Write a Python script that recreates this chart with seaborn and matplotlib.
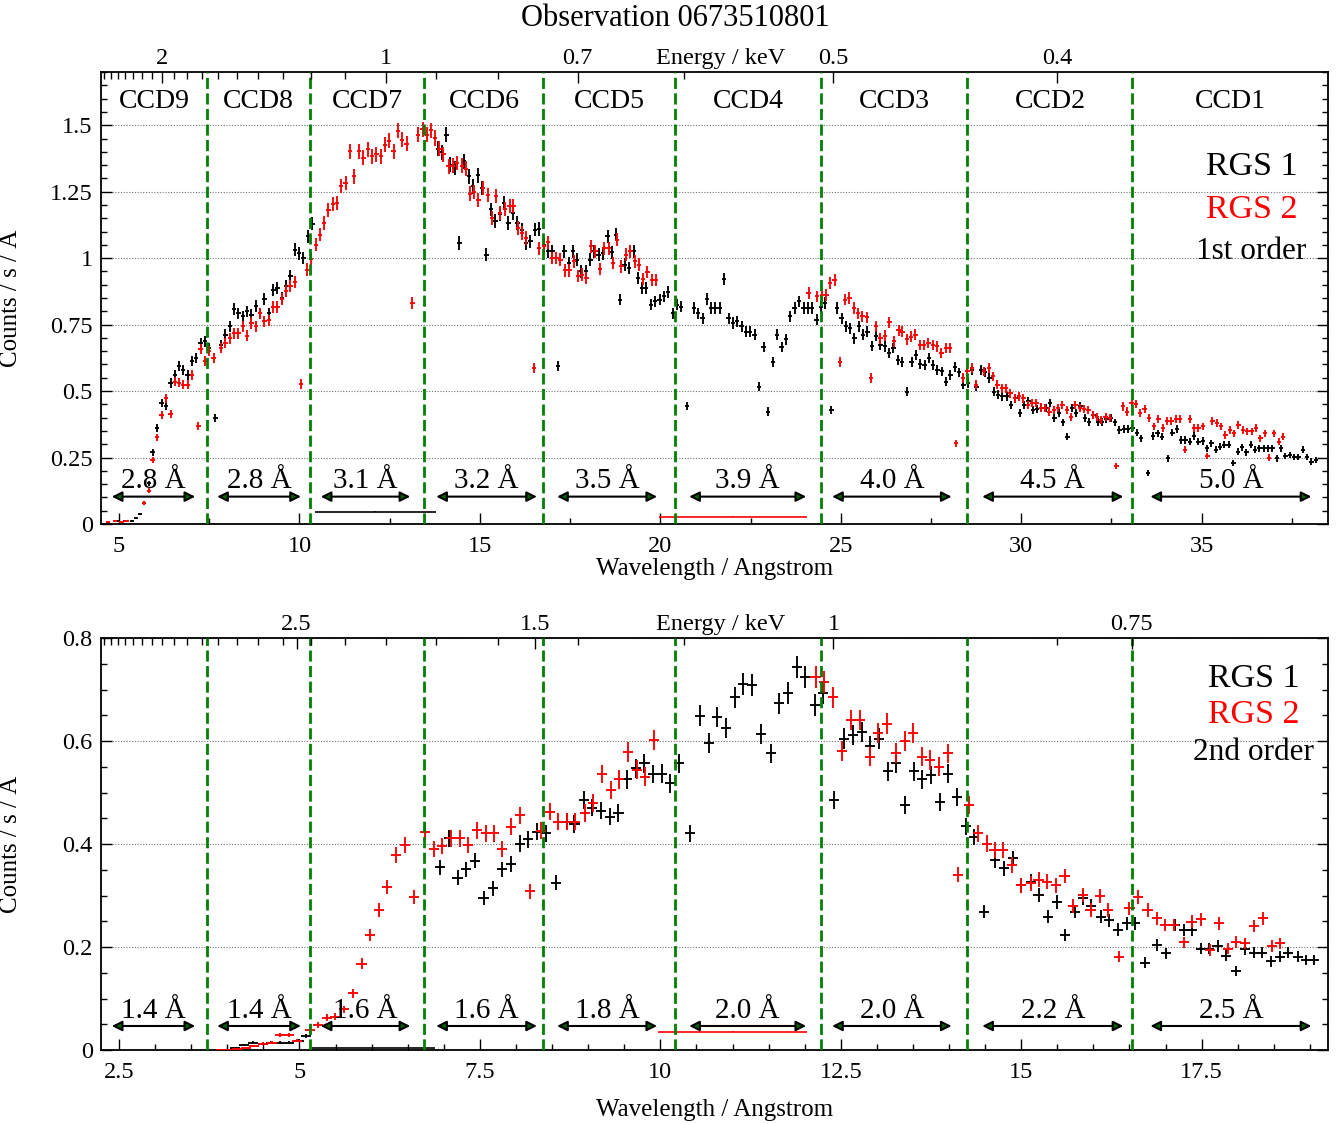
import numpy as np
import matplotlib
matplotlib.use("Agg")
import matplotlib.pyplot as plt
from matplotlib.transforms import offset_copy
from matplotlib.ticker import MultipleLocator, FormatStrFormatter
import seaborn as sns

# ---------------------------------------------------------------- data
# 1st order spectra (wavelength in Angstrom, counts / s / A)
rgs1_o1_wl = [4.98, 5.17, 5.35, 5.47, 5.58, 5.70, 5.83, 5.93, 6.06, 6.18, 6.30, 6.43, 6.55, 6.67, 6.78, 6.90,
              7.02, 7.14, 7.26, 7.38, 7.50, 7.67, 7.83, 7.95, 8.07, 8.19, 8.31, 8.43, 8.55, 8.67, 8.79, 8.91,
              9.03, 9.16, 9.28, 9.39, 9.51, 9.63, 9.75, 9.87, 9.99, 10.11, 10.25, 10.36,
              13.83, 13.95, 14.07, 14.18, 14.30, 14.43, 14.55, 14.69, 14.81, 14.94, 15.06, 15.18, 15.30, 15.43,
              15.55, 15.67, 15.79, 15.91, 16.04, 16.16, 16.28, 16.40, 16.52, 16.64, 16.77, 16.89, 17.01, 17.16,
              17.34, 17.46, 17.58, 17.69, 17.81, 17.94, 18.06, 18.17, 18.29, 18.41, 18.54, 18.66, 18.78, 18.89,
              19.01, 19.13, 19.26, 19.38, 19.49, 19.61, 19.74, 19.86, 19.98, 20.10, 20.22, 20.35, 20.46, 20.58,
              20.74, 20.94, 21.05, 21.17, 21.29, 21.40, 21.52, 21.64, 21.77, 21.89, 22.01, 22.13, 22.25, 22.37,
              22.49, 22.61, 22.74, 22.86, 22.99, 23.12, 23.24, 23.36, 23.48, 23.60, 23.72, 23.85, 23.97, 24.09,
              24.21, 24.33, 24.45, 24.57, 24.74, 24.90, 25.02, 25.14, 25.26, 25.38, 25.50, 25.62, 25.74, 25.86,
              25.98, 26.10, 26.22, 26.34, 26.46, 26.58, 26.70, 26.84, 26.96, 27.08, 27.20, 27.32, 27.44, 27.56,
              27.68, 27.80, 27.92, 28.04, 28.16, 28.28, 28.40, 28.52, 28.64, 28.76, 28.88, 29.00, 29.12, 29.24,
              29.36, 29.48, 29.60, 29.72, 29.84, 29.96, 30.08, 30.20, 30.32, 30.44, 30.56, 30.68, 30.80, 30.92,
              31.04, 31.16, 31.28, 31.40, 31.52, 31.64, 31.76, 31.88, 32.00, 32.12, 32.24, 32.36, 32.48, 32.60,
              32.72, 32.84, 32.96, 33.08, 33.20, 33.32, 33.52, 33.66, 33.78, 33.90, 34.06, 34.19, 34.31, 34.43,
              34.55, 34.67, 34.79, 34.91, 35.03, 35.15, 35.27, 35.39, 35.51, 35.63, 35.75, 35.88, 36.00, 36.12,
              36.24, 36.36, 36.48, 36.60, 36.72, 36.84, 36.96, 37.08, 37.20, 37.32, 37.44, 37.56, 37.68, 37.80,
              37.92, 38.04, 38.16]
rgs1_o1_cts = [0.010, 0.010, 0.012, 0.021, 0.038, 0.078, 0.153, 0.270, 0.360, 0.455, 0.445, 0.530, 0.561, 0.593, 0.580, 0.561,
               0.614, 0.626, 0.680, 0.687, 0.662, 0.400, 0.674, 0.712, 0.743, 0.808, 0.793, 0.781, 0.800, 0.787, 0.821, 0.793,
               0.846, 0.793, 0.881, 0.888, 0.850, 0.894, 0.932, 1.032, 1.019, 1.001, 1.082, 1.130,
               1.411, 1.399, 1.465, 1.352, 1.339, 1.057, 1.365, 1.308, 1.270, 1.311, 1.264, 1.013, 1.183, 1.139,
               1.167, 1.208, 1.132, 1.170, 1.132, 1.107, 1.057, 1.063, 1.107, 1.110, 1.051, 1.026, 1.026, 0.593,
               1.026, 0.982, 1.026, 0.994, 0.950, 0.950, 0.994, 1.026, 1.013, 1.019, 1.082, 1.022, 1.088, 0.844,
               0.975, 0.963, 1.026, 0.925, 0.888, 0.888, 0.825, 0.837, 0.844, 0.856, 0.871, 0.793, 0.825, 0.818,
               0.444, 0.812, 0.793, 0.774, 0.846, 0.812, 0.812, 0.812, 0.921, 0.774, 0.756, 0.762, 0.743, 0.724,
               0.724, 0.712, 0.517, 0.665, 0.423, 0.611, 0.712, 0.665, 0.695, 0.781, 0.812, 0.837, 0.812, 0.812,
               0.812, 0.768, 0.818, 0.831, 0.429, 0.812, 0.774, 0.743, 0.737, 0.699, 0.743, 0.712, 0.724, 0.670,
               0.708, 0.674, 0.668, 0.643, 0.662, 0.618, 0.611, 0.498, 0.611, 0.636, 0.602, 0.599, 0.624, 0.599,
               0.580, 0.574, 0.536, 0.561, 0.590, 0.570, 0.524, 0.530, 0.580, 0.517, 0.580, 0.570, 0.549, 0.498,
               0.486, 0.480, 0.480, 0.448, 0.473, 0.417, 0.448, 0.461, 0.429, 0.432, 0.436, 0.436, 0.455, 0.398,
               0.417, 0.382, 0.329, 0.436, 0.417, 0.442, 0.398, 0.385, 0.410, 0.385, 0.385, 0.394, 0.398, 0.382,
               0.354, 0.357, 0.357, 0.360, 0.344, 0.323, 0.191, 0.331, 0.341, 0.329, 0.247, 0.344, 0.357, 0.316,
               0.316, 0.310, 0.331, 0.310, 0.312, 0.285, 0.304, 0.279, 0.291, 0.298, 0.298, 0.231, 0.272, 0.289,
               0.269, 0.298, 0.279, 0.285, 0.285, 0.285, 0.285, 0.247, 0.285, 0.256, 0.260, 0.253, 0.251, 0.279,
               0.253, 0.235, 0.241]

rgs2_o1_wl = [4.70, 4.89, 5.07, 5.21, 5.70, 5.83, 5.93, 6.06, 6.18, 6.30, 6.43, 6.55, 6.67, 6.78, 6.90, 7.02,
              7.20, 7.26, 7.38, 7.50, 7.62, 7.83, 7.95, 8.07, 8.19, 8.31, 8.43, 8.55, 8.67, 8.79, 8.91, 9.03,
              9.16, 9.28, 9.39, 9.51, 9.63, 9.75, 9.87, 10.04, 10.20, 10.32, 10.46, 10.57, 10.68, 10.80, 10.92,
              11.04, 11.16, 11.28, 11.40, 11.52, 11.65, 11.77, 11.89, 12.01, 12.13, 12.25, 12.37, 12.49, 12.61,
              12.73, 12.85, 12.97, 13.13, 13.28, 13.41, 13.53, 13.65, 13.76, 13.88, 13.99, 14.13, 14.25, 14.36,
              14.50, 14.61, 14.73, 14.84, 14.96, 15.08, 15.22, 15.33, 15.45, 15.56, 15.70, 15.82, 15.93, 16.05,
              16.16, 16.28, 16.49, 16.63, 16.77, 16.89, 17.00, 17.12, 17.23, 17.37, 17.48, 17.60, 17.72, 17.83,
              17.95, 18.08, 18.20, 18.32, 18.45, 18.57, 18.69, 18.80, 18.92, 19.05, 19.17, 19.29, 19.40, 19.52,
              19.64, 19.76, 19.88,
              24.11, 24.34, 24.48, 24.60, 24.71, 24.83, 24.97, 25.11, 25.24, 25.36, 25.48, 25.60, 25.72, 25.84,
              25.98, 26.10, 26.22, 26.35, 26.47, 26.60, 26.71, 26.83, 26.95, 27.07, 27.19, 27.31, 27.43, 27.55,
              27.67, 27.79, 27.91, 28.03, 28.20, 28.39, 28.51, 28.63, 28.75, 28.96, 29.10, 29.22, 29.34, 29.46,
              29.58, 29.70, 29.82, 29.94, 30.06, 30.18, 30.30, 30.42, 30.54, 30.66, 30.78, 30.90, 31.02, 31.14,
              31.26, 31.38, 31.50, 31.62, 31.74, 31.86, 31.98, 32.10, 32.22, 32.34, 32.46, 32.64, 32.82, 32.94,
              33.06, 33.18, 33.30, 33.42, 33.55, 33.68, 33.80, 33.92, 34.04, 34.16, 34.28, 34.40, 34.54, 34.67,
              34.79, 34.91, 35.03, 35.16, 35.30, 35.42, 35.54, 35.66, 35.78, 35.90, 36.02, 36.15, 36.27, 36.39,
              36.51, 36.63, 36.75, 36.87, 37.00, 37.14, 37.26]
rgs2_o1_cts = [0.006, 0.010, 0.007, 0.010, 0.078, 0.126, 0.241, 0.326, 0.411, 0.473, 0.414, 0.536, 0.532, 0.524, 0.524, 0.561,
               0.370, 0.658, 0.612, 0.650, 0.625, 0.662, 0.680, 0.699, 0.718, 0.718, 0.743, 0.708, 0.756, 0.743, 0.793, 0.762,
               0.766, 0.816, 0.816, 0.846, 0.875, 0.894, 0.909, 0.527, 0.957, 0.997, 1.051, 1.088, 1.132, 1.180, 1.205,
               1.208, 1.271, 1.283, 1.402, 1.308, 1.402, 1.377, 1.409, 1.383, 1.390, 1.383, 1.427, 1.442, 1.402,
               1.480, 1.446, 1.431, 0.831, 1.465, 1.484, 1.465, 1.481, 1.452, 1.411, 1.390, 1.346, 1.348, 1.358,
               1.348, 1.336, 1.243, 1.248, 1.220, 1.264, 1.239, 1.151, 1.235, 1.170, 1.185, 1.195, 1.195, 1.114,
               1.095, 1.076, 0.586, 1.038, 1.045, 1.060, 1.001, 1.001, 0.994, 0.954, 0.954, 0.988, 0.932, 0.938,
               0.925, 1.045, 1.026, 0.959, 1.038, 1.038, 0.982, 1.070, 0.969, 1.013, 1.026, 0.988, 0.975, 0.921,
               0.947, 0.919, 0.919,
               0.868, 0.856, 0.862, 0.862, 0.906, 0.919, 0.608, 0.844, 0.850, 0.812, 0.793, 0.781, 0.778, 0.549,
               0.743, 0.699, 0.708, 0.758, 0.687, 0.728, 0.724, 0.695, 0.705, 0.712, 0.674, 0.674, 0.680, 0.674,
               0.668, 0.643, 0.662, 0.662, 0.304, 0.549, 0.574, 0.586, 0.524, 0.574, 0.586, 0.555, 0.524, 0.511,
               0.511, 0.492, 0.473, 0.480, 0.473, 0.448, 0.455, 0.455, 0.438, 0.436, 0.423, 0.429, 0.436, 0.448,
               0.429, 0.404, 0.448, 0.436, 0.432, 0.429, 0.410, 0.404, 0.391, 0.404, 0.398, 0.218, 0.442, 0.423,
               0.455, 0.452, 0.417, 0.432, 0.398, 0.367, 0.394, 0.360, 0.388, 0.388, 0.394, 0.394, 0.279, 0.394,
               0.360, 0.360, 0.367, 0.256, 0.388, 0.379, 0.367, 0.335, 0.354, 0.341, 0.373, 0.354, 0.348, 0.348,
               0.360, 0.323, 0.341, 0.250, 0.341, 0.310, 0.329]

# 2nd order spectra
rgs1_o2_wl = [4.11, 4.23, 4.36, 4.49, 4.61, 4.73, 4.85, 4.99, 5.09,
              6.95, 7.07, 7.19, 7.31, 7.43, 7.55, 7.68, 7.81, 7.93, 8.05, 8.17, 8.29, 8.41, 8.55, 8.71, 8.81,
              8.94, 9.05, 9.18, 9.30, 9.42, 9.54, 9.66, 9.78, 9.90, 10.02, 10.14, 10.26, 10.41, 10.55, 10.67,
              10.79, 10.91, 11.03, 11.15, 11.27, 11.40, 11.53, 11.65, 11.77, 11.89, 12.01, 12.14, 12.25, 12.40,
              12.54, 12.67, 12.79, 12.91, 13.03, 13.15, 13.27, 13.39, 13.51, 13.63, 13.75, 13.87, 13.99, 14.11,
              14.24, 14.35, 14.49, 14.64, 14.76, 14.88, 15.00, 15.13, 15.24, 15.37, 15.49, 15.61, 15.74, 15.86,
              15.97, 16.10, 16.22, 16.34, 16.46, 16.58, 16.72, 16.88, 17.00, 17.13, 17.25, 17.36, 17.49, 17.60,
              17.72, 17.84, 17.97, 18.10, 18.22, 18.33, 18.46, 18.58, 18.70, 18.83, 18.94, 19.06]
rgs1_o2_cts = [0.003, 0.010, 0.014, 0.012, 0.014, 0.014, 0.014, 0.018, 0.027,
               0.355, 0.411, 0.335, 0.351, 0.368, 0.295, 0.314, 0.351, 0.361, 0.401, 0.409, 0.424, 0.421, 0.325, 0.443, 0.439,
               0.485, 0.471, 0.465, 0.453, 0.460, 0.526, 0.547, 0.557, 0.536, 0.537, 0.518, 0.557, 0.421, 0.649, 0.596,
               0.647, 0.625, 0.685, 0.711, 0.709, 0.614, 0.576, 0.673, 0.693, 0.744, 0.725, 0.670, 0.693, 0.485,
               0.605, 0.612, 0.618, 0.590, 0.605, 0.541, 0.557, 0.476, 0.541, 0.526, 0.534, 0.482, 0.537, 0.492,
               0.435, 0.414, 0.269, 0.369, 0.353, 0.372, 0.320, 0.327, 0.301, 0.259, 0.288, 0.223, 0.269, 0.295,
               0.280, 0.259, 0.252, 0.234, 0.246, 0.246, 0.170, 0.204, 0.188, 0.243, 0.233, 0.233, 0.197, 0.197,
               0.202, 0.183, 0.154, 0.196, 0.189, 0.189, 0.172, 0.181, 0.189, 0.181, 0.175, 0.175]

rgs2_o2_wl = [3.92, 4.02, 4.13, 4.26, 4.37, 4.50, 4.62, 4.73, 4.85, 4.97, 5.14, 5.26, 5.38, 5.49, 5.62, 5.74,
              5.86, 5.98, 6.10, 6.21, 6.34, 6.46, 6.59, 6.74, 6.86, 6.98, 7.10, 7.22, 7.34, 7.46, 7.58, 7.70,
              7.81, 7.93, 8.06, 8.20, 8.35, 8.47, 8.58, 8.71, 8.82, 8.95, 9.07, 9.19, 9.32, 9.43, 9.55, 9.68,
              9.79, 9.91,
              12.15, 12.27, 12.39, 12.52, 12.64, 12.76, 12.90, 13.01, 13.14, 13.27, 13.39, 13.50, 13.63, 13.74,
              13.86, 13.98, 14.13, 14.28, 14.40, 14.52, 14.63, 14.75, 14.87, 15.00, 15.13, 15.24, 15.36, 15.48,
              15.60, 15.72, 15.85, 15.96, 16.09, 16.20, 16.35, 16.50, 16.62, 16.75, 16.88, 16.99, 17.12, 17.25,
              17.36, 17.49, 17.61, 17.74, 17.86, 17.98, 18.10, 18.23, 18.35, 18.47, 18.59]
rgs2_o2_cts = [0.001, 0.001, 0.002, 0.003, 0.008, 0.012, 0.014, 0.029, 0.029, 0.018, 0.038, 0.049, 0.063, 0.065, 0.079, 0.110,
               0.168, 0.223, 0.272, 0.317, 0.379, 0.398, 0.298, 0.424, 0.390, 0.396, 0.411, 0.411, 0.398, 0.427, 0.421, 0.421,
               0.390, 0.434, 0.456, 0.308, 0.426, 0.463, 0.443, 0.443, 0.443, 0.460, 0.480, 0.536, 0.505, 0.526, 0.579, 0.544,
               0.531, 0.602,
               0.724, 0.715, 0.685, 0.581, 0.641, 0.641, 0.570, 0.615, 0.634, 0.577, 0.601, 0.615, 0.570, 0.563,
               0.550, 0.576, 0.340, 0.476, 0.421, 0.401, 0.388, 0.388, 0.359, 0.320, 0.324, 0.331, 0.327, 0.320,
               0.338, 0.280, 0.301, 0.272, 0.299, 0.272, 0.181, 0.275, 0.298, 0.272, 0.256, 0.243, 0.243, 0.209,
               0.249, 0.254, 0.194, 0.246, 0.197, 0.210, 0.207, 0.241, 0.256, 0.202, 0.207]

# single wide bins spanning a whole (failed) CCD: [RGS1, RGS2]
wide_o1_wl = [12.10, 22.02]
wide_o1_cts = [0.046, 0.028]
wide_o1_half = [1.67, 2.05]
wide_o2_wl = [6.03, 11.00]
wide_o2_cts = [0.004, 0.036]
wide_o2_half = [0.85, 1.03]

bin_half_o1 = 0.06   # half bin width in Angstrom
bin_half_o2 = 0.07

# CCD layout
ccd_names = ["CCD9", "CCD8", "CCD7", "CCD6", "CCD5", "CCD4", "CCD3", "CCD2", "CCD1"]
ccd_edges_o1 = [7.44, 10.30, 13.46, 16.76, 20.41, 24.46, 28.51, 33.08]
ccd_width_o1 = ["2.8", "2.8", "3.1", "3.2", "3.5", "3.9", "4.0", "4.5", "5.0"]
ccd_width_o2 = ["1.4", "1.4", "1.6", "1.6", "1.8", "2.0", "2.0", "2.2", "2.5"]
arrow_start_o1 = [4.80, 7.72, 10.59, 13.79, 17.14, 20.80, 24.76, 28.92, 33.58]
arrow_end_o1 = [7.11, 10.04, 13.07, 16.58, 19.91, 24.04, 28.07, 32.83, 38.04]

# energy axis ticks (keV)
energy_major_o1 = [2, 1, 0.7, 0.5, 0.4]
energy_major_o1_lbl = ["2", "1", "0.7", "0.5", "0.4"]
energy_major_o2 = [2.5, 1.5, 1, 0.75]
energy_major_o2_lbl = ["2.5", "1.5", "1", "0.75"]
HC = 12.3984

# ---------------------------------------------------------------- style
sns.set_style("ticks", rc={"axes.edgecolor": "black", "text.color": "black",
                           "xtick.color": "black", "ytick.color": "black",
                           "axes.labelcolor": "black"})
plt.rcParams["font.family"] = ["Liberation Serif", "DejaVu Serif"]
plt.rcParams["xtick.labelsize"] = 17.5
plt.rcParams["ytick.labelsize"] = 17.5

GREEN = "#008000"
RED = "#ff0000"

fig = plt.figure(figsize=(13.43, 11.24), dpi=100)
ax1 = fig.add_axes([0.0752, 0.5338, 0.9136, 0.4021])
ax2 = fig.add_axes([0.0752, 0.0658, 0.9136, 0.3665])


def draw_panel(ax, s1wl, s1c, s2wl, s2c, wwl, wc, wh, bin_half, edges, widths, astart, aend,
               xlim, ylim, xmaj, xmin, ymaj, ymin, err_scale, arrow_y, width_y,
               emaj, emaj_lbl, estep, order_txt, txt_x, txt_y, ccd_labels):
    ax.set_xlim(*xlim)
    ax.set_ylim(*ylim)
    # top energy axis
    axt = ax.twiny()
    axt.set_xlim(*xlim)
    axt.set_xticks([HC / e for e in emaj], labels=emaj_lbl)
    emin_e = HC / xlim[1]
    emax_e = HC / xlim[0]
    minor_e = np.arange(np.ceil(emin_e / estep) * estep, emax_e, estep)
    axt.set_xticks([HC / e for e in minor_e], minor=True)
    axt.tick_params(axis="x", which="both", direction="in", top=True, bottom=False, pad=2)
    axt.tick_params(axis="x", which="major", length=8, width=1)
    axt.tick_params(axis="x", which="minor", length=5, width=1)
    for sp in axt.spines.values():
        sp.set_visible(False)
    ax.text(0.505, 1.0, "Energy / keV", fontsize=17.5, ha="center", va="bottom",
            transform=offset_copy(ax.transAxes, fig=fig, y=2, units="points"))

    # grid
    ax.yaxis.grid(True, which="major", ls=(0, (1, 1.5)), color="0.45", lw=0.8)
    ax.set_axisbelow(True)

    # CCD boundaries
    for b in edges:
        ax.axvline(b, color=GREEN, lw=2.0, ls=(0, (4, 1.6)), zorder=4)

    # spectra (error bar size ~ Poisson-like scaling of rate)
    for wl, c, col in ((s1wl, s1c, "black"), (s2wl, s2c, RED)):
        wl = np.asarray(wl)
        c = np.asarray(c)
        ax.errorbar(wl, c, xerr=bin_half, yerr=err_scale * np.sqrt(c), fmt="none",
                    ecolor=col, elinewidth=1.35, capsize=0, zorder=3)
    for x, y, h, col in zip(wwl, wc, wh, ("black", RED)):
        ax.errorbar([x], [y], xerr=[h], yerr=[err_scale * np.sqrt(y) * 0.3], fmt="none",
                    ecolor=col, elinewidth=1.2, capsize=0, zorder=3)

    # width arrows and labels
    for a0, a1, w in zip(astart, aend, widths):
        ax.annotate("", xy=(a1, arrow_y), xytext=(a0, arrow_y),
                    arrowprops=dict(arrowstyle="<|-|>,head_length=0.6,head_width=0.3",
                                    fc="#006400", ec="black", lw=1.5,
                                    shrinkA=0, shrinkB=0), zorder=5)
        ax.text((a0 + a1) / 2, width_y, f"{w} \u00c5", fontsize=21,
                ha="center", va="baseline", zorder=5)

    # CCD names
    if ccd_labels:
        bounds = [xlim[0]] + list(edges) + [xlim[1]]
        for i, n in enumerate(ccd_names):
            ax.text((bounds[i] + bounds[i + 1]) / 2, 1.565, n, fontsize=20,
                    ha="center", va="baseline")

    # legend-like text
    ax.text(txt_x, txt_y[0], "RGS 1", fontsize=24.5, ha="center", va="baseline", color="black")
    ax.text(txt_x, txt_y[1], "RGS 2", fontsize=24.5, ha="center", va="baseline", color=RED)
    ax.text(txt_x, txt_y[2], order_txt, fontsize=22.5, ha="center", va="baseline", color="black")

    # ticks
    ax.xaxis.set_major_locator(MultipleLocator(xmaj))
    ax.xaxis.set_minor_locator(MultipleLocator(xmin))
    ax.yaxis.set_major_locator(MultipleLocator(ymaj))
    ax.yaxis.set_minor_locator(MultipleLocator(ymin))
    ax.xaxis.set_major_formatter(FormatStrFormatter("%g"))
    ax.yaxis.set_major_formatter(FormatStrFormatter("%g"))
    ax.tick_params(which="both", direction="in", top=False, right=True, left=True, bottom=True)
    ax.tick_params(axis="x", which="major", length=8, width=1, pad=8.5)
    ax.tick_params(axis="y", which="major", length=8, width=1, pad=6)
    ax.tick_params(which="minor", length=4, width=1)
    for sp in ax.spines.values():
        sp.set_linewidth(1.3)
        sp.set_color("black")
    ax.set_xlabel("Wavelength / Angstrom", fontsize=18)
    ax.set_ylabel("Counts / s / \u00c5", fontsize=18)


draw_panel(ax1, rgs1_o1_wl, rgs1_o1_cts, rgs2_o1_wl, rgs2_o1_cts,
           wide_o1_wl, wide_o1_cts, wide_o1_half, bin_half_o1,
           ccd_edges_o1, ccd_width_o1, arrow_start_o1, arrow_end_o1,
           (4.5, 38.5), (0, 1.7), 5, 2.5, 0.25, 0.05, 0.024, 0.103, 0.134,
           energy_major_o1, energy_major_o1_lbl, 0.1, "1st order", 36.38,
           (1.311, 1.151, 0.997), True)

draw_panel(ax2, rgs1_o2_wl, rgs1_o2_cts, rgs2_o2_wl, rgs2_o2_cts,
           wide_o2_wl, wide_o2_cts, wide_o2_half, bin_half_o2,
           [e / 2 for e in ccd_edges_o1], ccd_width_o2,
           [a / 2 for a in arrow_start_o1], [a / 2 for a in arrow_end_o1],
           (2.25, 19.25), (0, 0.8), 2.5, 0.5, 0.2, 0.05, 0.025, 0.0467, 0.0615,
           energy_major_o2, energy_major_o2_lbl, 0.2, "2nd order", 18.22,
           (0.7056, 0.6343, 0.5632), False)

ax1.xaxis.set_label_coords(0.5, -0.076)
ax2.xaxis.set_label_coords(0.5, -0.119)
ax1.yaxis.set_label_coords(-0.064, 0.5)
ax2.yaxis.set_label_coords(-0.064, 0.5)

fig.text(0.5026, 0.9832, "Observation 0673510801", fontsize=22, ha="center", va="center")

fig.savefig("out.png", dpi=100)
